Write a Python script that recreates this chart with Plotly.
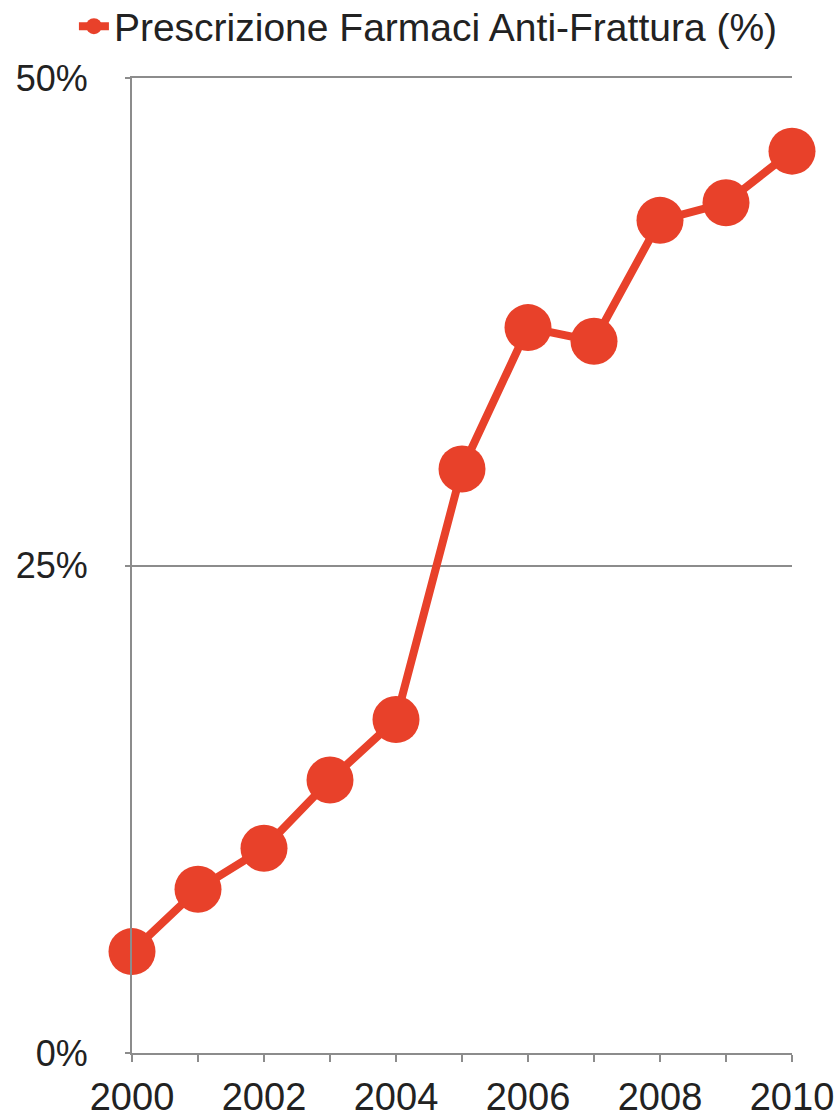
import plotly.graph_objects as go

years = [2000, 2001, 2002, 2003, 2004, 2005, 2006, 2007, 2008, 2009, 2010]
values = [5.2, 8.4, 10.5, 14.0, 17.1, 29.95, 37.2, 36.5, 42.7, 43.6, 46.25]
series_name = "Prescrizione Farmaci Anti-Frattura (%)"
x_tick_text = ["2000", "", "2002", "", "2004", "", "2006", "", "2008", "", "2010"]
y_tick_vals = [0, 25, 50]
y_tick_text = ["0%", "25%", "50%"]

RED = "#E8412A"
GREY = "#8C8C8C"
FONT = "Liberation Sans, Arial, sans-serif"

fig = go.Figure()
fig.add_trace(go.Scatter(
    x=years, y=values, name=series_name, mode="lines+markers",
    line=dict(color=RED, width=8),
    marker=dict(color=RED, size=47, line=dict(width=0)),
    cliponaxis=False,
))

fig.update_layout(
    width=840, height=1119,
    margin=dict(l=132, r=48, t=78, b=66, autoexpand=False),
    paper_bgcolor="white", plot_bgcolor="white",
    font=dict(family=FONT, color="#222222"),
    showlegend=True,
    legend=dict(
        x=-0.088, y=1.053, xanchor="left", yanchor="middle",
        font=dict(size=39, color="#222222", family=FONT),
        bgcolor="rgba(0,0,0,0)",
    ),
    xaxis=dict(
        range=[2000, 2010], tickmode="array", tickvals=years, ticktext=x_tick_text,
        showline=True, linecolor=GREY, linewidth=2, mirror=True,
        ticks="outside", ticklen=7, tickwidth=2, tickcolor=GREY,
        showgrid=False, zeroline=False,
        tickfont=dict(size=38, color="#222222", family=FONT),
        ticklabelstandoff=2,
        automargin=False,
    ),
    yaxis=dict(
        range=[0, 50], tickmode="array", tickvals=y_tick_vals, ticktext=y_tick_text,
        showline=True, linecolor=GREY, linewidth=2,
        ticks="outside", ticklen=5, tickwidth=2, tickcolor=GREY,
        showgrid=True, gridcolor=GREY, gridwidth=2, zeroline=False,
        tickfont=dict(size=36, color="#222222", family=FONT),
        ticklabelstandoff=30,
        automargin=False,
    ),
)

fig.write_html("out.html")
